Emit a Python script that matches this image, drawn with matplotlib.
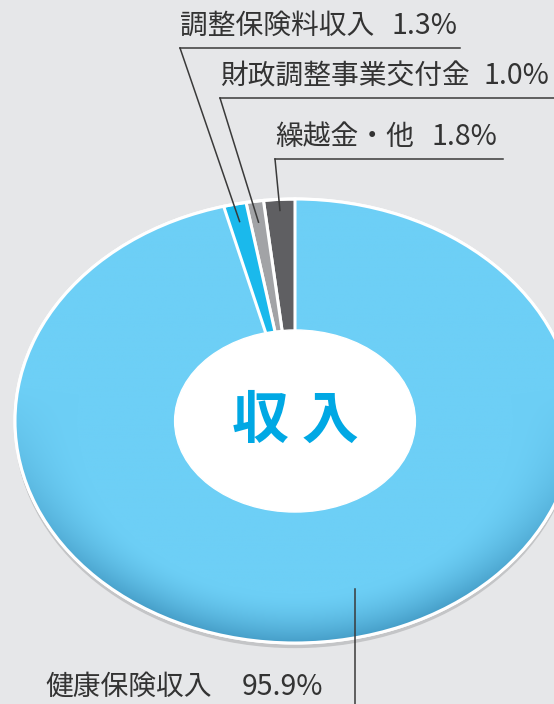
import numpy as np
import matplotlib
matplotlib.use("Agg")
import matplotlib.pyplot as plt
from matplotlib.patches import Ellipse

plt.rcParams['font.family'] = ['Noto Sans CJK JP', 'DejaVu Sans']

# data
labels = ['繰越金・他', '財政調整事業交付金', '調整保険料収入', '健康保険収入']
shares = [1.8, 1.0, 1.3, 95.9]
colors = ['#5f5f62', '#a2a3a6', '#1ab9ec', '#6dcff6']
center_text = '収 入'

W, H = 554, 704
cx, cy, rx, ry = 295, 421, 280, 222  # ellipse in pixels

def px(x):
    return (x - cx) / rx

def py(y):
    return (cy - y) / ry

fig = plt.figure(figsize=(W / 100, H / 100), dpi=100)
fig.patch.set_facecolor('#e6e7e9')
ax = fig.add_axes([0, 0, 1, 1])
ax.set_facecolor('#e6e7e9')

# soft shadow under the rim
ax.add_patch(Ellipse((0, -0.02), 2.0, 2.0, color='#c4c5c7', zorder=1))

wedges, _ = ax.pie(shares, colors=colors, startangle=90, counterclock=True,
                   radius=1.0, wedgeprops=dict(edgecolor='white', linewidth=2.2))
for w in wedges:
    w.set_zorder(2)

# shaded rim on the big slice
xs = np.linspace(-1, 1, 500)
XX, YY = np.meshgrid(xs, xs)
R = np.hypot(XX, YY) + 1e-9
s = np.clip((R - 0.78) / 0.22, 0, 1) ** 1.6 * np.clip(-YY / R + 0.15, 0, 1)
base = np.array([109, 207, 246]) / 255
dark = np.array([70, 158, 200]) / 255
img = base * (1 - s[..., None]) + dark * s[..., None]
im = ax.imshow(img, extent=(-1, 1, -1, 1), origin='lower', zorder=3)
im.set_clip_path(wedges[3])
for w in wedges[:3]:
    w.set_zorder(4)
ax.pie([shares[3]], startangle=90 - 360 * shares[3] / 100, radius=1.0, colors=['none'],
       wedgeprops=dict(edgecolor='white', linewidth=2.2, zorder=4))

# white hole
ax.add_patch(Ellipse((0, 0), 2 * 0.43, 2 * 0.41, facecolor='white',
                     edgecolor='white', zorder=5))
ax.text(0, py(421), center_text, ha='center', va='center', fontsize=41,
        fontweight='bold', color='#00a8e4', zorder=6)

# leader lines for the small slices
ang = 90.0
mids = []
for v in shares:
    mids.append(ang + 360 * v / 200)
    ang += 360 * v / 100

lc = '#3a3a3a'
txt = dict(fontsize=20, color='#333333', va='center', ha='left', zorder=7)
pct = dict(fontsize=20.5, color='#333333', va='center', ha='left', zorder=7)
label_pos = {  # text left, value left, text y, underline y, underline right (pixels)
    0: (277, 432, 137, 159, 503),
    1: (222, 484, 76, 98, 560),
    2: (182, 392, 26, 48, 460),
}
rr = {0: 0.95, 1: 0.905, 2: 0.92}
for i, (tx, vx, ty, uy, ux) in label_pos.items():
    ax.text(px(tx - 2), py(ty), labels[i], **txt)
    ax.text(px(vx), py(ty), f'{shares[i]:.1f}%', **pct)
    ax.plot([px(tx - 2), px(ux)], [py(uy), py(uy)], color=lc, lw=1.1, zorder=7,
            clip_on=False)
    a = np.radians(mids[i])
    ax.plot([px(tx - 2), rr[i] * np.cos(a)], [py(uy), rr[i] * np.sin(a)],
            color=lc, lw=1.1, zorder=7)

# big slice label
ax.text(px(45), py(687), labels[3], **txt)
ax.text(px(242), py(687), f'{shares[3]:.1f}%', **pct)
ax.plot([px(355), px(355)], [py(589), py(720)], color=lc, lw=1.1, zorder=7)

ax.set_aspect('auto')
ax.set_xlim(px(0), px(W))
ax.set_ylim(py(H), py(0))
ax.axis('off')

fig.savefig('out.png', dpi=100, facecolor=fig.get_facecolor())
